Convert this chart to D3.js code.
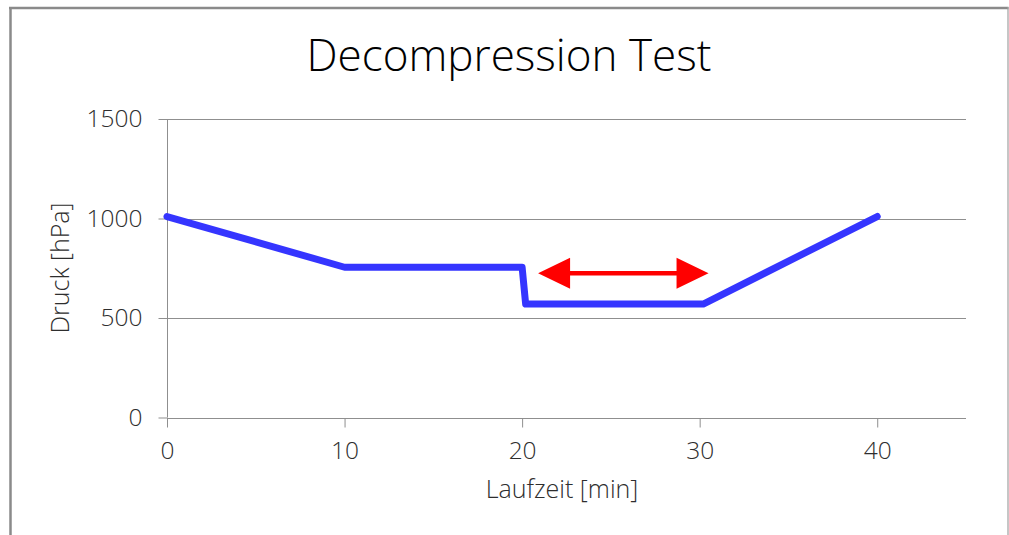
<!DOCTYPE html>
<html>
<head>
<meta charset="utf-8">
<script src="https://cdn.jsdelivr.net/npm/d3@7"></script>
<style>
  html, body { margin: 0; padding: 0; background: #ffffff; }
  svg { display: block; }
  text { font-family: "Open Sans", "Noto Sans", sans-serif; }
</style>
</head>
<body>
<svg id="chart" width="1009" height="535"></svg>
<script>
// ---- data ----
const timeMin = [0, 10, 20, 20.2, 30.2, 40];
const pressureHPa = [1010, 755, 755, 570, 570, 1010];
const xTicks = [0, 10, 20, 30, 40];
const yTicks = [0, 500, 1000, 1500];
const arrowTime = [20.9, 30.5];
const arrowPressure = [725, 725];
const chartTitle = "Decompression Test";
const xTitle = "Laufzeit [min]";
const yTitle = "Druck [hPa]";

// ---- layout ----
const svg = d3.select("#chart");
const x = d3.scaleLinear().domain([0, 45]).range([167, 966]);
const y = d3.scaleLinear().domain([0, 1500]).range([417.5, 119]);
const gridColor = "#8f8f8f";
const textColor = "#2e2e2e";

// frame
svg.append("line").attr("x1", 9).attr("x2", 1008.5).attr("y1", 8).attr("y2", 8)
  .attr("stroke", "#8a8a8a").attr("stroke-width", 2.5);
svg.append("line").attr("x1", 10.5).attr("x2", 10.5).attr("y1", 7).attr("y2", 535)
  .attr("stroke", "#8a8a8a").attr("stroke-width", 2.5);
svg.append("line").attr("x1", 1008).attr("x2", 1008).attr("y1", 7).attr("y2", 535)
  .attr("stroke", "#a0a0a0").attr("stroke-width", 1.2);

// title
svg.append("text").attr("x", 509).attr("y", 71).attr("text-anchor", "middle")
  .attr("font-size", 44).attr("font-weight", 300).attr("fill", "#000").text(chartTitle);

// gridlines
svg.append("g").selectAll("line").data(yTicks.filter(d => d > 0)).join("line")
  .attr("x1", x(0)).attr("x2", x(45))
  .attr("y1", d => Math.round(y(d)) + 0.5).attr("y2", d => Math.round(y(d)) + 0.5)
  .attr("stroke", gridColor).attr("stroke-width", 1);

// y axis
const yAxis = svg.append("g").attr("transform", `translate(${Math.round(x(0)) + 0.5},0)`)
  .call(d3.axisLeft(y).tickValues(yTicks).tickSize(9).tickPadding(16).tickFormat(d3.format("d")));
yAxis.select(".domain").attr("d", `M0,${y(1500)}V${y(0)}`).attr("stroke", gridColor);
yAxis.selectAll(".tick line").attr("stroke", gridColor);
yAxis.selectAll(".tick text").attr("font-size", 24.5).attr("fill", textColor)
  .attr("font-family", "Open Sans").attr("font-weight", 300);

// x axis
const xAxis = svg.append("g").attr("transform", `translate(0,${Math.round(y(0)) + 0.5})`)
  .call(d3.axisBottom(x).tickValues(xTicks).tickSize(9).tickPadding(14).tickFormat(d3.format("d")));
xAxis.select(".domain").attr("d", `M${x(0)},0H${x(45)}`).attr("stroke", gridColor);
xAxis.selectAll(".tick line").attr("stroke", gridColor);
xAxis.selectAll(".tick text").attr("font-size", 24.5).attr("fill", textColor)
  .attr("font-family", "Open Sans").attr("font-weight", 300);

// axis titles
svg.append("text").attr("x", 562).attr("y", 498).attr("text-anchor", "middle")
  .attr("font-size", 25).attr("font-weight", 300).attr("fill", textColor).text(xTitle);
svg.append("text").attr("transform", "translate(69,268) rotate(-90)")
  .attr("text-anchor", "middle").attr("font-size", 25).attr("font-weight", 300)
  .attr("fill", textColor).text(yTitle);

// data line
const pts = timeMin.map((t, i) => [t, pressureHPa[i]]);
svg.append("path").datum(pts)
  .attr("d", d3.line().x(d => x(d[0])).y(d => y(d[1])))
  .attr("fill", "none").attr("stroke", "#3535ff").attr("stroke-width", 7)
  .attr("stroke-linejoin", "round").attr("stroke-linecap", "round");

// double-headed arrow
const ax1 = x(arrowTime[0]), ax2 = x(arrowTime[1]);
const ay = y(arrowPressure[0]);
const headLen = 32, headHalf = 15.5, shaftHalf = 2.2;
const arrow = d3.path();
arrow.moveTo(ax1, ay);
arrow.lineTo(ax1 + headLen, ay - headHalf);
arrow.lineTo(ax1 + headLen, ay - shaftHalf);
arrow.lineTo(ax2 - headLen, ay - shaftHalf);
arrow.lineTo(ax2 - headLen, ay - headHalf);
arrow.lineTo(ax2, ay);
arrow.lineTo(ax2 - headLen, ay + headHalf);
arrow.lineTo(ax2 - headLen, ay + shaftHalf);
arrow.lineTo(ax1 + headLen, ay + shaftHalf);
arrow.lineTo(ax1 + headLen, ay + headHalf);
arrow.closePath();
svg.append("path").attr("d", arrow.toString()).attr("fill", "#ff0000");
</script>
</body>
</html>
